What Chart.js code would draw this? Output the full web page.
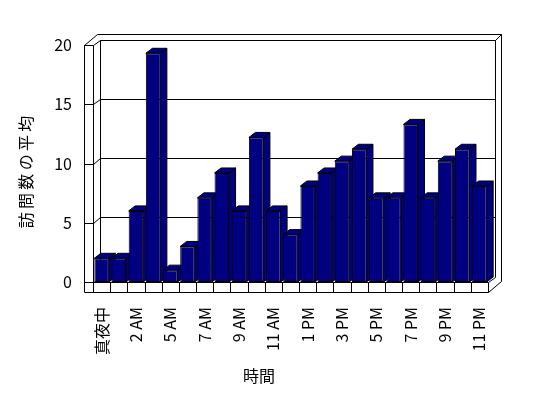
<!DOCTYPE html>
<html><head><meta charset="utf-8">
<script src="https://cdn.jsdelivr.net/npm/chart.js@4"></script>
<style>html,body{margin:0;padding:0;background:#fff;}canvas{display:block;}</style>
</head><body>
<canvas id="c" width="548" height="398"></canvas>
<script>
const categories = ['真夜中','1 AM','2 AM','3 AM','5 AM','6 AM','7 AM','8 AM','9 AM','10 AM','11 AM','正午','1 PM','2 PM','3 PM','4 PM','5 PM','6 PM','7 PM','8 PM','9 PM','10 PM','11 PM'];
const visits = [2, 2, 6, 19.3, 1, 3, 7.1, 9.2, 6, 12.2, 6, 4, 8.1, 9.2, 10.2, 11.2, 7.1, 7.1, 13.3, 7.1, 10.2, 11.2, 8.1];
const yTicks = [0, 5, 10, 15, 20];
const xTitle = '時間';
const yTitle = '訪問数の平均';
const FONT = '"Noto Sans CJK JP", "Noto Sans", sans-serif';
const NAVY = '#000080';

const box3d = {
  id: 'box3d',
  beforeDatasetsDraw(chart) {
    const ctx = chart.ctx, a = chart.chartArea;
    const L = a.left, R = a.right, T = a.top, B = a.bottom;
    const dx = 6.7, dy = -5.3, Lo = L - 9, Bo = B + 10;
    const ys = chart.scales.y, xs = chart.scales.x;
    const p = v => Math.round(v) + 0.5;
    ctx.save();
    ctx.strokeStyle = '#000'; ctx.lineWidth = 1;
    const poly = pts => { ctx.beginPath(); pts.forEach(([x, y], i) => i ? ctx.lineTo(p(x), p(y)) : ctx.moveTo(p(x), p(y))); ctx.stroke(); };
    poly([[L + dx, B + dy], [L + dx, T + dy], [R + dx, T + dy], [R + dx, B + dy], [R, B]]);
    poly([[Lo, Bo], [Lo, T], [Lo + 2 * dx, T + 2 * dy], [R + 2 * dx, T + 2 * dy], [R + 2 * dx, Bo + 2 * dy], [R, Bo]]);
    poly([[R + dx, T + dy], [R + 2 * dx, T + 2 * dy]]);
    poly([[L, B], [L, T]]);
    yTicks.forEach(v => {
      if (v === 0) return;
      const py = ys.getPixelForValue(v);
      poly([[Lo, py], [L, py], [L + dx, py + dy], [R + dx, py + dy]]);
    });
    poly([[Lo, B], [R, B], [R, Bo], [Lo, Bo]]);
    for (let i = 0; i < categories.length; i++) {
      const xb = i === 0 ? L : (xs.getPixelForValue(i - 1) + xs.getPixelForValue(i)) / 2;
      poly([[xb, B], [xb, Bo]]);
    }
    const meta = chart.getDatasetMeta(0);
    const bdx = 6.5, bdy = -5;
    ctx.fillStyle = NAVY;
    meta.data.forEach(el => {
      const {x, y, width, base} = el.getProps(['x', 'y', 'width', 'base'], true);
      const x0 = x - width / 2, x1 = x + width / 2;
      ctx.beginPath();
      ctx.moveTo(x1, y); ctx.lineTo(x1 + bdx, y + bdy); ctx.lineTo(x1 + bdx, base + bdy); ctx.lineTo(x1, base); ctx.closePath();
      ctx.fill(); ctx.stroke();
      ctx.beginPath();
      ctx.moveTo(x0, y); ctx.lineTo(x1, y); ctx.lineTo(x1 + bdx, y + bdy); ctx.lineTo(x0 + bdx, y + bdy); ctx.closePath();
      ctx.fill(); ctx.stroke();
    });
    ctx.restore();
  },
  afterDraw(chart) {
    const ctx = chart.ctx;
    ctx.save();
    ctx.fillStyle = '#000';
    ctx.font = '16px ' + FONT;
    ctx.textAlign = 'center'; ctx.textBaseline = 'middle';
    ctx.fillText(xTitle, 259, 376);
    ctx.translate(25.5, 172);
    ctx.rotate(-Math.PI / 2);
    const chars = Array.from(yTitle);
    chars.forEach((ch, i) => ctx.fillText(ch, (i - (chars.length - 1) / 2) * 19.3, 0));
    ctx.restore();
  }
};

new Chart(document.getElementById('c'), {
  type: 'bar',
  data: {
    labels: categories,
    datasets: [{
      data: visits,
      backgroundColor: NAVY,
      borderColor: '#000',
      borderWidth: 1,
      borderSkipped: false,
      barPercentage: 0.845,
      categoryPercentage: 1.0
    }]
  },
  options: {
    responsive: false,
    animation: false,
    layout: { padding: { left: 0, right: 60, top: 45, bottom: 0 } },
    plugins: { legend: { display: false }, tooltip: { enabled: false } },
    scales: {
      x: {
        offset: true,
        grid: { display: false, drawTicks: false },
        border: { display: false },
        ticks: {
          autoSkip: false, minRotation: 90, maxRotation: 90, padding: 25,
          color: '#000', font: { family: FONT, size: 16 },
          callback: (v, i) => i % 2 === 0 ? categories[i] : ''
        },
        afterFit: s => { s.height = 116; }
      },
      y: {
        min: 0, max: 20,
        grid: { display: false, drawTicks: false },
        border: { display: false },
        ticks: { stepSize: 5, padding: 21, color: '#000', font: { family: FONT, size: 16 } },
        afterFit: s => { s.width = 93; }
      }
    }
  },
  plugins: [box3d]
});
</script>
</body></html>
